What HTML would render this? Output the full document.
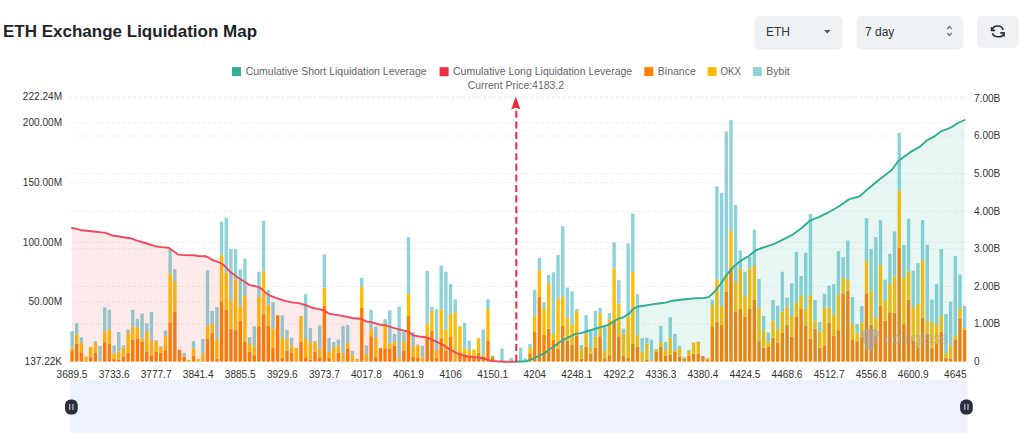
<!DOCTYPE html>
<html><head><meta charset="utf-8">
<style>
html,body{margin:0;padding:0;background:#fff;}
body{width:1024px;height:444px;overflow:hidden;position:relative;font-family:"Liberation Sans",sans-serif;}
.title{position:absolute;left:3px;top:22px;line-height:19.5px;font-size:17px;font-weight:bold;color:#1E2329;white-space:nowrap;}
.sel{position:absolute;top:15.5px;height:32px;background:#EFF2F5;border-radius:5px;box-shadow:0 1px 2px rgba(0,0,0,0.10);font-size:12px;color:#30343B;}
.sel span{position:absolute;top:9px;line-height:14px;}
.btn{position:absolute;left:977px;top:16px;width:42px;height:31.5px;background:#EFF2F5;border-radius:5px;}
svg.chart{position:absolute;left:0;top:0;}
svg text{font-family:"Liberation Sans",sans-serif;}
</style></head><body>
<div class="title">ETH Exchange Liquidation Map</div>
<div class="sel" style="left:754.5px;width:87.5px;"><span style="left:11.5px">ETH</span>
<svg style="position:absolute;left:69px;top:14.5px" width="7" height="4"><path d="M0,0 L6.5,0 L3.25,3.4 Z" fill="#555"/></svg></div>
<div class="sel" style="left:856.5px;width:106px;"><span style="left:8.5px">7 day</span>
<svg style="position:absolute;left:89px;top:9.5px" width="7" height="12"><path d="M1.2,4 L3.4,1.4 L5.6,4 M1.2,8 L3.4,10.6 L5.6,8" fill="none" stroke="#6A6E75" stroke-width="1.2"/></svg></div>
<div class="btn"></div>
<svg style="position:absolute;left:985px;top:21px" width="26" height="21" viewBox="0 0 26 21">
<path d="M7.3,8.8 C8.4,3.8 17,3.8 18.2,9.0" fill="none" stroke="#2E3138" stroke-width="1.6"/>
<path d="M7.4,12.3 C8.6,16.9 17.7,16.9 18.8,12.8" fill="none" stroke="#2E3138" stroke-width="1.6"/>
<path d="M6.6,5.9 L6.6,9.4 L10.1,9.4" fill="none" stroke="#2E3138" stroke-width="1.6" stroke-linejoin="miter"/>
<path d="M15.3,11.9 L19.1,11.9 L19.1,15.6" fill="none" stroke="#2E3138" stroke-width="1.6" stroke-linejoin="miter"/>
</svg>

<svg class="chart" width="1024" height="444" viewBox="0 0 1024 444">
<g stroke="#EFEFEF" stroke-width="1" stroke-dasharray="3.2 2.1"><line x1="69.66" y1="301.95" x2="967" y2="301.95" />
<line x1="69.66" y1="242.30" x2="967" y2="242.30" />
<line x1="69.66" y1="182.65" x2="967" y2="182.65" />
<line x1="69.66" y1="123.00" x2="967" y2="123.00" />
<line x1="69.66" y1="96.47" x2="967" y2="96.47" />
<line x1="69.66" y1="324.00" x2="967" y2="324.00" />
<line x1="69.66" y1="286.40" x2="967" y2="286.40" />
<line x1="69.66" y1="248.80" x2="967" y2="248.80" />
<line x1="69.66" y1="211.20" x2="967" y2="211.20" />
<line x1="69.66" y1="173.60" x2="967" y2="173.60" />
<line x1="69.66" y1="136.00" x2="967" y2="136.00" />
<line x1="69.66" y1="98.40" x2="967" y2="98.40" /></g>
<g><rect x="70.30" y="351.00" width="3.4" height="10.60" fill="#FF7F00"/><rect x="70.30" y="347.21" width="3.4" height="3.78" fill="#FFBC05"/><rect x="70.30" y="331.13" width="3.4" height="16.08" fill="#8DD3D9"/>
<rect x="74.97" y="343.43" width="3.4" height="18.17" fill="#FF7F00"/><rect x="74.97" y="334.35" width="3.4" height="9.08" fill="#FFBC05"/><rect x="74.97" y="323.38" width="3.4" height="10.97" fill="#8DD3D9"/>
<rect x="79.64" y="352.32" width="3.4" height="9.28" fill="#FF7F00"/><rect x="79.64" y="342.86" width="3.4" height="9.46" fill="#FFBC05"/><rect x="79.64" y="337.38" width="3.4" height="5.49" fill="#8DD3D9"/>
<rect x="84.32" y="360.46" width="3.4" height="1.14" fill="#FF7F00"/><rect x="84.32" y="356.67" width="3.4" height="3.78" fill="#FFBC05"/>
<rect x="88.99" y="357.24" width="3.4" height="4.36" fill="#FF7F00"/><rect x="88.99" y="347.02" width="3.4" height="10.22" fill="#FFBC05"/>
<rect x="93.66" y="352.89" width="3.4" height="8.71" fill="#FF7F00"/><rect x="93.66" y="342.86" width="3.4" height="10.03" fill="#FFBC05"/><rect x="93.66" y="341.16" width="3.4" height="1.70" fill="#8DD3D9"/>
<rect x="98.34" y="361.21" width="3.4" height="0.39" fill="#FF7F00"/><rect x="98.34" y="360.46" width="3.4" height="0.76" fill="#FFBC05"/><rect x="98.34" y="345.89" width="3.4" height="14.57" fill="#8DD3D9"/>
<rect x="103.01" y="342.29" width="3.4" height="19.31" fill="#FF7F00"/><rect x="103.01" y="331.32" width="3.4" height="10.97" fill="#FFBC05"/><rect x="103.01" y="307.49" width="3.4" height="23.84" fill="#8DD3D9"/>
<rect x="107.68" y="343.43" width="3.4" height="18.17" fill="#FF7F00"/><rect x="107.68" y="329.62" width="3.4" height="13.81" fill="#FFBC05"/><rect x="107.68" y="309.76" width="3.4" height="19.86" fill="#8DD3D9"/>
<rect x="112.36" y="359.13" width="3.4" height="2.47" fill="#FF7F00"/><rect x="112.36" y="353.27" width="3.4" height="5.86" fill="#FFBC05"/><rect x="112.36" y="345.32" width="3.4" height="7.95" fill="#8DD3D9"/>
<rect x="117.03" y="359.89" width="3.4" height="1.71" fill="#FF7F00"/><rect x="117.03" y="351.37" width="3.4" height="8.51" fill="#FFBC05"/><rect x="117.03" y="332.08" width="3.4" height="19.30" fill="#8DD3D9"/>
<rect x="121.71" y="356.67" width="3.4" height="4.93" fill="#FF7F00"/><rect x="121.71" y="347.59" width="3.4" height="9.08" fill="#FFBC05"/><rect x="121.71" y="345.32" width="3.4" height="2.27" fill="#8DD3D9"/>
<rect x="126.38" y="352.89" width="3.4" height="8.71" fill="#FF7F00"/><rect x="126.38" y="333.02" width="3.4" height="19.86" fill="#FFBC05"/><rect x="126.38" y="329.43" width="3.4" height="3.59" fill="#8DD3D9"/>
<rect x="131.05" y="339.83" width="3.4" height="21.77" fill="#FF7F00"/><rect x="131.05" y="326.40" width="3.4" height="13.43" fill="#FFBC05"/><rect x="131.05" y="309.76" width="3.4" height="16.65" fill="#8DD3D9"/>
<rect x="135.73" y="338.32" width="3.4" height="23.28" fill="#FF7F00"/><rect x="135.73" y="327.73" width="3.4" height="10.59" fill="#FFBC05"/><rect x="135.73" y="318.84" width="3.4" height="8.89" fill="#8DD3D9"/>
<rect x="140.40" y="341.92" width="3.4" height="19.68" fill="#FF7F00"/><rect x="140.40" y="338.70" width="3.4" height="3.22" fill="#FFBC05"/><rect x="140.40" y="313.54" width="3.4" height="25.16" fill="#8DD3D9"/>
<rect x="145.07" y="351.37" width="3.4" height="10.23" fill="#FF7F00"/><rect x="145.07" y="331.70" width="3.4" height="19.67" fill="#FFBC05"/><rect x="145.07" y="323.38" width="3.4" height="8.32" fill="#8DD3D9"/>
<rect x="149.75" y="355.35" width="3.4" height="6.25" fill="#FF7F00"/><rect x="149.75" y="339.83" width="3.4" height="15.51" fill="#FFBC05"/><rect x="149.75" y="311.84" width="3.4" height="28.00" fill="#8DD3D9"/>
<rect x="154.42" y="351.37" width="3.4" height="10.23" fill="#FF7F00"/><rect x="154.42" y="341.92" width="3.4" height="9.46" fill="#FFBC05"/><rect x="154.42" y="340.21" width="3.4" height="1.70" fill="#8DD3D9"/>
<rect x="159.09" y="352.89" width="3.4" height="8.71" fill="#FF7F00"/><rect x="159.09" y="347.21" width="3.4" height="5.68" fill="#FFBC05"/><rect x="159.09" y="346.27" width="3.4" height="0.95" fill="#8DD3D9"/>
<rect x="163.77" y="351.00" width="3.4" height="10.60" fill="#FF7F00"/><rect x="163.77" y="336.24" width="3.4" height="14.76" fill="#FFBC05"/><rect x="163.77" y="330.56" width="3.4" height="5.68" fill="#8DD3D9"/>
<rect x="168.44" y="322.24" width="3.4" height="39.36" fill="#FF7F00"/><rect x="168.44" y="273.62" width="3.4" height="48.62" fill="#FFBC05"/><rect x="168.44" y="249.02" width="3.4" height="24.59" fill="#8DD3D9"/>
<rect x="173.11" y="311.27" width="3.4" height="50.33" fill="#FF7F00"/><rect x="173.11" y="281.00" width="3.4" height="30.27" fill="#FFBC05"/><rect x="173.11" y="269.27" width="3.4" height="11.73" fill="#8DD3D9"/>
<rect x="177.79" y="349.86" width="3.4" height="11.74" fill="#FF7F00"/>
<rect x="182.46" y="356.67" width="3.4" height="4.93" fill="#FF7F00"/><rect x="182.46" y="356.29" width="3.4" height="0.38" fill="#FFBC05"/><rect x="182.46" y="352.89" width="3.4" height="3.41" fill="#8DD3D9"/>
<rect x="187.13" y="359.89" width="3.4" height="1.71" fill="#FFBC05"/>
<rect x="191.81" y="355.73" width="3.4" height="5.87" fill="#FF7F00"/><rect x="191.81" y="348.54" width="3.4" height="7.19" fill="#FFBC05"/><rect x="191.81" y="341.16" width="3.4" height="7.38" fill="#8DD3D9"/>
<rect x="196.48" y="359.13" width="3.4" height="2.47" fill="#FFBC05"/>
<rect x="201.15" y="361.02" width="3.4" height="0.58" fill="#FF7F00"/><rect x="201.15" y="353.08" width="3.4" height="7.95" fill="#FFBC05"/><rect x="201.15" y="338.89" width="3.4" height="14.19" fill="#8DD3D9"/>
<rect x="205.83" y="338.89" width="3.4" height="22.71" fill="#FF7F00"/><rect x="205.83" y="325.65" width="3.4" height="13.24" fill="#FFBC05"/><rect x="205.83" y="270.40" width="3.4" height="55.24" fill="#8DD3D9"/>
<rect x="210.50" y="332.84" width="3.4" height="28.76" fill="#FF7F00"/><rect x="210.50" y="323.57" width="3.4" height="9.27" fill="#FFBC05"/><rect x="210.50" y="310.89" width="3.4" height="12.67" fill="#8DD3D9"/>
<rect x="215.18" y="358.56" width="3.4" height="3.04" fill="#FF7F00"/><rect x="215.18" y="339.08" width="3.4" height="19.49" fill="#FFBC05"/><rect x="215.18" y="307.11" width="3.4" height="31.97" fill="#8DD3D9"/>
<rect x="219.85" y="301.24" width="3.4" height="60.36" fill="#FF7F00"/><rect x="219.85" y="254.70" width="3.4" height="46.54" fill="#FFBC05"/><rect x="219.85" y="221.59" width="3.4" height="33.11" fill="#8DD3D9"/>
<rect x="224.52" y="309.94" width="3.4" height="51.66" fill="#FF7F00"/><rect x="224.52" y="272.67" width="3.4" height="37.27" fill="#FFBC05"/><rect x="224.52" y="217.81" width="3.4" height="54.86" fill="#8DD3D9"/>
<rect x="229.20" y="328.67" width="3.4" height="32.93" fill="#FF7F00"/><rect x="229.20" y="299.54" width="3.4" height="29.13" fill="#FFBC05"/><rect x="229.20" y="249.02" width="3.4" height="50.52" fill="#8DD3D9"/>
<rect x="233.87" y="330.19" width="3.4" height="31.41" fill="#FF7F00"/><rect x="233.87" y="279.29" width="3.4" height="50.89" fill="#FFBC05"/><rect x="233.87" y="249.02" width="3.4" height="30.27" fill="#8DD3D9"/>
<rect x="238.54" y="320.92" width="3.4" height="40.68" fill="#FF7F00"/><rect x="238.54" y="306.16" width="3.4" height="14.76" fill="#FFBC05"/><rect x="238.54" y="269.27" width="3.4" height="36.89" fill="#8DD3D9"/>
<rect x="243.22" y="341.92" width="3.4" height="19.68" fill="#FF7F00"/><rect x="243.22" y="296.13" width="3.4" height="45.78" fill="#FFBC05"/><rect x="243.22" y="258.67" width="3.4" height="37.46" fill="#8DD3D9"/>
<rect x="247.89" y="351.75" width="3.4" height="9.85" fill="#FF7F00"/><rect x="247.89" y="343.05" width="3.4" height="8.70" fill="#FFBC05"/><rect x="247.89" y="337.19" width="3.4" height="5.86" fill="#8DD3D9"/>
<rect x="252.56" y="355.16" width="3.4" height="6.44" fill="#FF7F00"/><rect x="252.56" y="346.46" width="3.4" height="8.70" fill="#FFBC05"/><rect x="252.56" y="326.40" width="3.4" height="20.05" fill="#8DD3D9"/>
<rect x="257.24" y="326.40" width="3.4" height="35.20" fill="#FF7F00"/><rect x="257.24" y="297.08" width="3.4" height="29.32" fill="#FFBC05"/><rect x="257.24" y="271.73" width="3.4" height="25.35" fill="#8DD3D9"/>
<rect x="261.91" y="313.73" width="3.4" height="47.87" fill="#FF7F00"/><rect x="261.91" y="271.16" width="3.4" height="42.57" fill="#FFBC05"/><rect x="261.91" y="220.65" width="3.4" height="50.51" fill="#8DD3D9"/>
<rect x="266.58" y="325.46" width="3.4" height="36.14" fill="#FF7F00"/><rect x="266.58" y="305.59" width="3.4" height="19.86" fill="#FFBC05"/><rect x="266.58" y="290.08" width="3.4" height="15.51" fill="#8DD3D9"/>
<rect x="271.26" y="348.16" width="3.4" height="13.44" fill="#FF7F00"/><rect x="271.26" y="328.67" width="3.4" height="19.49" fill="#FFBC05"/><rect x="271.26" y="302.19" width="3.4" height="26.49" fill="#8DD3D9"/>
<rect x="275.93" y="315.43" width="3.4" height="46.17" fill="#FF7F00"/>
<rect x="280.60" y="357.62" width="3.4" height="3.98" fill="#FF7F00"/><rect x="280.60" y="338.13" width="3.4" height="19.49" fill="#FFBC05"/><rect x="280.60" y="315.43" width="3.4" height="22.70" fill="#8DD3D9"/>
<rect x="285.28" y="350.43" width="3.4" height="11.17" fill="#FF7F00"/><rect x="285.28" y="339.08" width="3.4" height="11.35" fill="#FFBC05"/><rect x="285.28" y="329.81" width="3.4" height="9.27" fill="#8DD3D9"/>
<rect x="289.95" y="352.32" width="3.4" height="9.28" fill="#FF7F00"/><rect x="289.95" y="346.27" width="3.4" height="6.05" fill="#FFBC05"/><rect x="289.95" y="337.75" width="3.4" height="8.51" fill="#8DD3D9"/>
<rect x="294.62" y="360.83" width="3.4" height="0.77" fill="#FF7F00"/><rect x="294.62" y="347.97" width="3.4" height="12.86" fill="#FFBC05"/>
<rect x="299.30" y="341.92" width="3.4" height="19.68" fill="#FF7F00"/><rect x="299.30" y="316.00" width="3.4" height="25.92" fill="#FFBC05"/>
<rect x="303.97" y="357.24" width="3.4" height="4.36" fill="#FF7F00"/><rect x="303.97" y="339.08" width="3.4" height="18.16" fill="#FFBC05"/><rect x="303.97" y="293.86" width="3.4" height="45.21" fill="#8DD3D9"/>
<rect x="308.65" y="359.51" width="3.4" height="2.09" fill="#FF7F00"/><rect x="308.65" y="342.86" width="3.4" height="16.65" fill="#FFBC05"/><rect x="308.65" y="327.92" width="3.4" height="14.95" fill="#8DD3D9"/>
<rect x="313.32" y="351.94" width="3.4" height="9.66" fill="#FF7F00"/><rect x="313.32" y="341.92" width="3.4" height="10.03" fill="#FFBC05"/><rect x="313.32" y="340.97" width="3.4" height="0.95" fill="#8DD3D9"/>
<rect x="317.99" y="358.00" width="3.4" height="3.60" fill="#FF7F00"/><rect x="317.99" y="348.54" width="3.4" height="9.46" fill="#FFBC05"/><rect x="317.99" y="325.65" width="3.4" height="22.89" fill="#8DD3D9"/>
<rect x="322.67" y="305.59" width="3.4" height="56.01" fill="#FF7F00"/><rect x="322.67" y="287.62" width="3.4" height="17.97" fill="#FFBC05"/><rect x="322.67" y="254.32" width="3.4" height="33.30" fill="#8DD3D9"/>
<rect x="327.34" y="358.00" width="3.4" height="3.60" fill="#FF7F00"/><rect x="327.34" y="351.94" width="3.4" height="6.05" fill="#FFBC05"/><rect x="327.34" y="337.75" width="3.4" height="14.19" fill="#8DD3D9"/>
<rect x="332.01" y="360.83" width="3.4" height="0.77" fill="#FF7F00"/><rect x="332.01" y="347.21" width="3.4" height="13.62" fill="#FFBC05"/><rect x="332.01" y="341.92" width="3.4" height="5.30" fill="#8DD3D9"/>
<rect x="336.69" y="352.89" width="3.4" height="8.71" fill="#FF7F00"/><rect x="336.69" y="345.32" width="3.4" height="7.57" fill="#FFBC05"/><rect x="336.69" y="339.65" width="3.4" height="5.68" fill="#8DD3D9"/>
<rect x="341.36" y="360.46" width="3.4" height="1.14" fill="#FF7F00"/><rect x="341.36" y="352.89" width="3.4" height="7.57" fill="#FFBC05"/><rect x="341.36" y="326.02" width="3.4" height="26.86" fill="#8DD3D9"/>
<rect x="346.03" y="348.54" width="3.4" height="13.06" fill="#FF7F00"/><rect x="346.03" y="343.05" width="3.4" height="5.49" fill="#FFBC05"/><rect x="346.03" y="325.08" width="3.4" height="17.97" fill="#8DD3D9"/>
<rect x="350.71" y="360.46" width="3.4" height="1.14" fill="#FF7F00"/><rect x="350.71" y="355.35" width="3.4" height="5.11" fill="#FFBC05"/><rect x="350.71" y="351.00" width="3.4" height="4.35" fill="#8DD3D9"/>
<rect x="355.38" y="360.46" width="3.4" height="1.14" fill="#FF7F00"/><rect x="355.38" y="358.94" width="3.4" height="1.51" fill="#FFBC05"/>
<rect x="360.05" y="307.86" width="3.4" height="53.74" fill="#FF7F00"/><rect x="360.05" y="286.68" width="3.4" height="21.19" fill="#FFBC05"/><rect x="360.05" y="277.97" width="3.4" height="8.71" fill="#8DD3D9"/>
<rect x="364.73" y="360.46" width="3.4" height="1.14" fill="#FF7F00"/><rect x="364.73" y="354.40" width="3.4" height="6.05" fill="#FFBC05"/><rect x="364.73" y="345.32" width="3.4" height="9.08" fill="#8DD3D9"/>
<rect x="369.40" y="336.24" width="3.4" height="25.36" fill="#FF7F00"/><rect x="369.40" y="329.24" width="3.4" height="7.00" fill="#FFBC05"/><rect x="369.40" y="309.76" width="3.4" height="19.49" fill="#8DD3D9"/>
<rect x="374.07" y="357.24" width="3.4" height="4.36" fill="#FF7F00"/><rect x="374.07" y="337.75" width="3.4" height="19.49" fill="#FFBC05"/><rect x="374.07" y="326.78" width="3.4" height="10.97" fill="#8DD3D9"/>
<rect x="378.75" y="348.16" width="3.4" height="13.44" fill="#FF7F00"/>
<rect x="383.42" y="348.16" width="3.4" height="13.44" fill="#FF7F00"/><rect x="383.42" y="325.84" width="3.4" height="22.32" fill="#FFBC05"/><rect x="383.42" y="319.21" width="3.4" height="6.62" fill="#8DD3D9"/>
<rect x="388.09" y="348.54" width="3.4" height="13.06" fill="#FF7F00"/><rect x="388.09" y="343.43" width="3.4" height="5.11" fill="#FFBC05"/><rect x="388.09" y="310.32" width="3.4" height="33.11" fill="#8DD3D9"/>
<rect x="392.77" y="345.70" width="3.4" height="15.90" fill="#FF7F00"/><rect x="392.77" y="341.92" width="3.4" height="3.78" fill="#FFBC05"/><rect x="392.77" y="333.97" width="3.4" height="7.95" fill="#8DD3D9"/>
<rect x="397.44" y="360.46" width="3.4" height="1.14" fill="#FF7F00"/><rect x="397.44" y="357.62" width="3.4" height="2.84" fill="#FFBC05"/><rect x="397.44" y="306.54" width="3.4" height="51.08" fill="#8DD3D9"/>
<rect x="402.12" y="350.43" width="3.4" height="11.17" fill="#FF7F00"/><rect x="402.12" y="341.92" width="3.4" height="8.51" fill="#FFBC05"/><rect x="402.12" y="331.70" width="3.4" height="10.22" fill="#8DD3D9"/>
<rect x="406.79" y="316.00" width="3.4" height="45.60" fill="#FF7F00"/><rect x="406.79" y="293.86" width="3.4" height="22.13" fill="#FFBC05"/><rect x="406.79" y="237.11" width="3.4" height="56.76" fill="#8DD3D9"/>
<rect x="411.46" y="357.05" width="3.4" height="4.55" fill="#FF7F00"/><rect x="411.46" y="346.27" width="3.4" height="10.78" fill="#FFBC05"/><rect x="411.46" y="332.08" width="3.4" height="14.19" fill="#8DD3D9"/>
<rect x="416.14" y="357.62" width="3.4" height="3.98" fill="#FF7F00"/><rect x="416.14" y="345.32" width="3.4" height="12.30" fill="#FFBC05"/><rect x="416.14" y="344.37" width="3.4" height="0.95" fill="#8DD3D9"/>
<rect x="420.81" y="360.46" width="3.4" height="1.14" fill="#FF7F00"/><rect x="420.81" y="357.62" width="3.4" height="2.84" fill="#FFBC05"/><rect x="420.81" y="345.70" width="3.4" height="11.92" fill="#8DD3D9"/>
<rect x="425.48" y="338.32" width="3.4" height="23.28" fill="#FF7F00"/><rect x="425.48" y="323.57" width="3.4" height="14.76" fill="#FFBC05"/><rect x="425.48" y="270.78" width="3.4" height="52.79" fill="#8DD3D9"/>
<rect x="430.16" y="330.75" width="3.4" height="30.85" fill="#FF7F00"/><rect x="430.16" y="310.70" width="3.4" height="20.05" fill="#FFBC05"/><rect x="430.16" y="306.92" width="3.4" height="3.78" fill="#8DD3D9"/>
<rect x="434.83" y="357.62" width="3.4" height="3.98" fill="#FF7F00"/><rect x="434.83" y="350.05" width="3.4" height="7.57" fill="#FFBC05"/><rect x="434.83" y="309.38" width="3.4" height="40.67" fill="#8DD3D9"/>
<rect x="439.50" y="337.75" width="3.4" height="23.85" fill="#FF7F00"/><rect x="439.50" y="309.38" width="3.4" height="28.38" fill="#FFBC05"/><rect x="439.50" y="265.48" width="3.4" height="43.89" fill="#8DD3D9"/>
<rect x="444.18" y="350.62" width="3.4" height="10.98" fill="#FF7F00"/><rect x="444.18" y="329.81" width="3.4" height="20.81" fill="#FFBC05"/><rect x="444.18" y="271.73" width="3.4" height="58.08" fill="#8DD3D9"/>
<rect x="448.85" y="336.24" width="3.4" height="25.36" fill="#FF7F00"/><rect x="448.85" y="314.11" width="3.4" height="22.13" fill="#FFBC05"/><rect x="448.85" y="284.22" width="3.4" height="29.89" fill="#8DD3D9"/>
<rect x="453.52" y="361.02" width="3.4" height="0.58" fill="#FF7F00"/><rect x="453.52" y="312.21" width="3.4" height="48.81" fill="#FFBC05"/><rect x="453.52" y="299.35" width="3.4" height="12.86" fill="#8DD3D9"/>
<rect x="458.20" y="352.13" width="3.4" height="9.47" fill="#FF7F00"/><rect x="458.20" y="326.40" width="3.4" height="25.73" fill="#FFBC05"/>
<rect x="462.87" y="355.16" width="3.4" height="6.44" fill="#FF7F00"/><rect x="462.87" y="348.16" width="3.4" height="7.00" fill="#FFBC05"/><rect x="462.87" y="323.00" width="3.4" height="25.16" fill="#8DD3D9"/>
<rect x="467.54" y="355.16" width="3.4" height="6.44" fill="#FF7F00"/><rect x="467.54" y="350.05" width="3.4" height="5.11" fill="#FFBC05"/><rect x="467.54" y="340.59" width="3.4" height="9.46" fill="#8DD3D9"/>
<rect x="472.22" y="357.05" width="3.4" height="4.55" fill="#FF7F00"/><rect x="472.22" y="349.48" width="3.4" height="7.57" fill="#FFBC05"/>
<rect x="476.89" y="352.89" width="3.4" height="8.71" fill="#FF7F00"/><rect x="476.89" y="338.13" width="3.4" height="14.76" fill="#FFBC05"/>
<rect x="481.56" y="357.05" width="3.4" height="4.55" fill="#FF7F00"/><rect x="481.56" y="354.78" width="3.4" height="2.27" fill="#FFBC05"/><rect x="481.56" y="329.62" width="3.4" height="25.16" fill="#8DD3D9"/>
<rect x="486.24" y="340.97" width="3.4" height="20.63" fill="#FF7F00"/><rect x="486.24" y="309.00" width="3.4" height="31.97" fill="#FFBC05"/><rect x="486.24" y="299.35" width="3.4" height="9.65" fill="#8DD3D9"/>
<rect x="490.91" y="357.05" width="3.4" height="4.55" fill="#FF7F00"/><rect x="490.91" y="355.54" width="3.4" height="1.51" fill="#8DD3D9"/>

<rect x="500.26" y="348.54" width="3.4" height="13.06" fill="#8DD3D9"/>

<rect x="509.61" y="358.00" width="3.4" height="3.60" fill="#8DD3D9"/>

<rect x="518.95" y="347.59" width="3.4" height="14.01" fill="#8DD3D9"/>
<rect x="523.63" y="358.56" width="3.4" height="3.04" fill="#8DD3D9"/>
<rect x="528.30" y="353.27" width="3.4" height="8.33" fill="#FF7F00"/><rect x="528.30" y="348.16" width="3.4" height="5.11" fill="#FFBC05"/><rect x="528.30" y="344.00" width="3.4" height="4.16" fill="#8DD3D9"/>
<rect x="532.97" y="332.08" width="3.4" height="29.52" fill="#FF7F00"/><rect x="532.97" y="315.62" width="3.4" height="16.46" fill="#FFBC05"/><rect x="532.97" y="289.89" width="3.4" height="25.73" fill="#8DD3D9"/>
<rect x="537.65" y="297.08" width="3.4" height="64.52" fill="#FF7F00"/><rect x="537.65" y="270.21" width="3.4" height="26.87" fill="#FFBC05"/><rect x="537.65" y="257.92" width="3.4" height="12.30" fill="#8DD3D9"/>
<rect x="542.32" y="334.92" width="3.4" height="26.68" fill="#FF7F00"/><rect x="542.32" y="309.00" width="3.4" height="25.92" fill="#FFBC05"/><rect x="542.32" y="302.19" width="3.4" height="6.81" fill="#8DD3D9"/>
<rect x="546.99" y="328.67" width="3.4" height="32.93" fill="#FF7F00"/><rect x="546.99" y="282.89" width="3.4" height="45.78" fill="#FFBC05"/><rect x="546.99" y="274.94" width="3.4" height="7.95" fill="#8DD3D9"/>
<rect x="551.67" y="340.02" width="3.4" height="21.58" fill="#FF7F00"/><rect x="551.67" y="333.97" width="3.4" height="6.05" fill="#FFBC05"/><rect x="551.67" y="272.29" width="3.4" height="61.68" fill="#8DD3D9"/>
<rect x="556.34" y="348.73" width="3.4" height="12.87" fill="#FF7F00"/><rect x="556.34" y="298.97" width="3.4" height="49.75" fill="#FFBC05"/><rect x="556.34" y="255.08" width="3.4" height="43.89" fill="#8DD3D9"/>
<rect x="561.01" y="325.84" width="3.4" height="35.76" fill="#FF7F00"/><rect x="561.01" y="297.08" width="3.4" height="28.76" fill="#FFBC05"/><rect x="561.01" y="226.32" width="3.4" height="70.76" fill="#8DD3D9"/>
<rect x="565.69" y="340.59" width="3.4" height="21.01" fill="#FF7F00"/><rect x="565.69" y="317.51" width="3.4" height="23.08" fill="#FFBC05"/><rect x="565.69" y="287.62" width="3.4" height="29.89" fill="#8DD3D9"/>
<rect x="570.36" y="344.94" width="3.4" height="16.66" fill="#FF7F00"/><rect x="570.36" y="324.51" width="3.4" height="20.43" fill="#FFBC05"/><rect x="570.36" y="291.40" width="3.4" height="33.11" fill="#8DD3D9"/>
<rect x="575.03" y="335.86" width="3.4" height="25.74" fill="#FF7F00"/><rect x="575.03" y="310.89" width="3.4" height="24.97" fill="#FFBC05"/><rect x="575.03" y="309.00" width="3.4" height="1.89" fill="#8DD3D9"/>
<rect x="579.71" y="358.56" width="3.4" height="3.04" fill="#FF7F00"/><rect x="579.71" y="349.10" width="3.4" height="9.46" fill="#FFBC05"/><rect x="579.71" y="344.94" width="3.4" height="4.16" fill="#8DD3D9"/>
<rect x="584.38" y="346.83" width="3.4" height="14.77" fill="#FF7F00"/><rect x="584.38" y="333.59" width="3.4" height="13.24" fill="#FFBC05"/><rect x="584.38" y="315.05" width="3.4" height="18.54" fill="#8DD3D9"/>
<rect x="589.06" y="353.83" width="3.4" height="7.77" fill="#FF7F00"/><rect x="589.06" y="347.21" width="3.4" height="6.62" fill="#FFBC05"/><rect x="589.06" y="331.13" width="3.4" height="16.08" fill="#8DD3D9"/>
<rect x="593.73" y="347.78" width="3.4" height="13.82" fill="#FF7F00"/><rect x="593.73" y="336.81" width="3.4" height="10.97" fill="#FFBC05"/><rect x="593.73" y="310.70" width="3.4" height="26.11" fill="#8DD3D9"/>
<rect x="598.40" y="336.24" width="3.4" height="25.36" fill="#FF7F00"/><rect x="598.40" y="313.16" width="3.4" height="23.08" fill="#FFBC05"/><rect x="598.40" y="308.05" width="3.4" height="5.11" fill="#8DD3D9"/>
<rect x="603.08" y="358.19" width="3.4" height="3.41" fill="#FF7F00"/><rect x="603.08" y="350.62" width="3.4" height="7.57" fill="#FFBC05"/><rect x="603.08" y="326.97" width="3.4" height="23.65" fill="#8DD3D9"/>
<rect x="607.75" y="355.16" width="3.4" height="6.44" fill="#FF7F00"/><rect x="607.75" y="319.40" width="3.4" height="35.75" fill="#FFBC05"/><rect x="607.75" y="313.16" width="3.4" height="6.24" fill="#8DD3D9"/>
<rect x="612.42" y="321.67" width="3.4" height="39.93" fill="#FF7F00"/><rect x="612.42" y="268.51" width="3.4" height="53.16" fill="#FFBC05"/><rect x="612.42" y="242.40" width="3.4" height="26.11" fill="#8DD3D9"/>
<rect x="617.10" y="336.24" width="3.4" height="25.36" fill="#FF7F00"/><rect x="617.10" y="303.32" width="3.4" height="32.92" fill="#FFBC05"/><rect x="617.10" y="280.24" width="3.4" height="23.08" fill="#8DD3D9"/>
<rect x="621.77" y="356.10" width="3.4" height="5.50" fill="#FF7F00"/><rect x="621.77" y="333.40" width="3.4" height="22.70" fill="#FFBC05"/><rect x="621.77" y="328.67" width="3.4" height="4.73" fill="#8DD3D9"/>
<rect x="626.44" y="357.62" width="3.4" height="3.98" fill="#FF7F00"/><rect x="626.44" y="316.38" width="3.4" height="41.24" fill="#FFBC05"/><rect x="626.44" y="243.35" width="3.4" height="73.03" fill="#8DD3D9"/>
<rect x="631.12" y="344.00" width="3.4" height="17.60" fill="#FF7F00"/><rect x="631.12" y="272.10" width="3.4" height="71.89" fill="#FFBC05"/><rect x="631.12" y="213.65" width="3.4" height="58.46" fill="#8DD3D9"/>
<rect x="635.79" y="346.83" width="3.4" height="14.77" fill="#FF7F00"/><rect x="635.79" y="334.92" width="3.4" height="11.92" fill="#FFBC05"/><rect x="635.79" y="294.24" width="3.4" height="40.67" fill="#8DD3D9"/>
<rect x="640.46" y="361.02" width="3.4" height="0.58" fill="#FF7F00"/><rect x="640.46" y="351.56" width="3.4" height="9.46" fill="#FFBC05"/><rect x="640.46" y="338.13" width="3.4" height="13.43" fill="#8DD3D9"/>
<rect x="645.14" y="359.89" width="3.4" height="1.71" fill="#FF7F00"/><rect x="645.14" y="343.81" width="3.4" height="16.08" fill="#FFBC05"/><rect x="645.14" y="337.75" width="3.4" height="6.05" fill="#8DD3D9"/>
<rect x="649.81" y="361.40" width="3.4" height="0.20" fill="#FF7F00"/><rect x="649.81" y="360.08" width="3.4" height="1.32" fill="#FFBC05"/><rect x="649.81" y="339.65" width="3.4" height="20.43" fill="#8DD3D9"/>
<rect x="654.48" y="351.94" width="3.4" height="9.66" fill="#FF7F00"/><rect x="654.48" y="349.67" width="3.4" height="2.27" fill="#FFBC05"/><rect x="654.48" y="349.10" width="3.4" height="0.57" fill="#8DD3D9"/>
<rect x="659.16" y="346.83" width="3.4" height="14.77" fill="#FF7F00"/><rect x="659.16" y="341.92" width="3.4" height="4.92" fill="#FFBC05"/><rect x="659.16" y="326.02" width="3.4" height="15.89" fill="#8DD3D9"/>
<rect x="663.83" y="355.73" width="3.4" height="5.87" fill="#FF7F00"/><rect x="663.83" y="350.05" width="3.4" height="5.68" fill="#FFBC05"/><rect x="663.83" y="342.10" width="3.4" height="7.95" fill="#8DD3D9"/>
<rect x="668.50" y="354.78" width="3.4" height="6.82" fill="#FF7F00"/><rect x="668.50" y="337.75" width="3.4" height="17.03" fill="#FFBC05"/><rect x="668.50" y="317.32" width="3.4" height="20.43" fill="#8DD3D9"/>
<rect x="673.18" y="351.37" width="3.4" height="10.23" fill="#FF7F00"/><rect x="673.18" y="350.05" width="3.4" height="1.32" fill="#FFBC05"/><rect x="673.18" y="333.97" width="3.4" height="16.08" fill="#8DD3D9"/>
<rect x="677.85" y="356.67" width="3.4" height="4.93" fill="#FF7F00"/><rect x="677.85" y="348.16" width="3.4" height="8.51" fill="#FFBC05"/><rect x="677.85" y="345.70" width="3.4" height="2.46" fill="#8DD3D9"/>
<rect x="682.53" y="358.56" width="3.4" height="3.04" fill="#FF7F00"/><rect x="682.53" y="357.62" width="3.4" height="0.95" fill="#FFBC05"/><rect x="682.53" y="356.67" width="3.4" height="0.95" fill="#8DD3D9"/>
<rect x="687.20" y="355.73" width="3.4" height="5.87" fill="#FF7F00"/><rect x="687.20" y="351.00" width="3.4" height="4.73" fill="#FFBC05"/><rect x="687.20" y="350.05" width="3.4" height="0.95" fill="#8DD3D9"/>
<rect x="691.87" y="353.83" width="3.4" height="7.77" fill="#FF7F00"/><rect x="691.87" y="342.48" width="3.4" height="11.35" fill="#FFBC05"/>
<rect x="696.55" y="353.83" width="3.4" height="7.77" fill="#FF7F00"/><rect x="696.55" y="341.92" width="3.4" height="11.92" fill="#FFBC05"/><rect x="696.55" y="341.54" width="3.4" height="0.38" fill="#8DD3D9"/>
<rect x="701.22" y="356.10" width="3.4" height="5.50" fill="#FF7F00"/>
<rect x="705.89" y="359.51" width="3.4" height="2.09" fill="#FF7F00"/><rect x="705.89" y="358.00" width="3.4" height="1.51" fill="#FFBC05"/>
<rect x="710.57" y="326.97" width="3.4" height="34.63" fill="#FF7F00"/><rect x="710.57" y="305.21" width="3.4" height="21.76" fill="#FFBC05"/><rect x="710.57" y="299.92" width="3.4" height="5.30" fill="#8DD3D9"/>
<rect x="715.24" y="321.67" width="3.4" height="39.93" fill="#FF7F00"/><rect x="715.24" y="279.67" width="3.4" height="42.00" fill="#FFBC05"/><rect x="715.24" y="186.40" width="3.4" height="93.27" fill="#8DD3D9"/>
<rect x="719.91" y="324.89" width="3.4" height="36.71" fill="#FF7F00"/><rect x="719.91" y="306.16" width="3.4" height="18.73" fill="#FFBC05"/><rect x="719.91" y="192.83" width="3.4" height="113.33" fill="#8DD3D9"/>
<rect x="724.59" y="291.78" width="3.4" height="69.82" fill="#FF7F00"/><rect x="724.59" y="273.62" width="3.4" height="18.17" fill="#FFBC05"/><rect x="724.59" y="131.54" width="3.4" height="142.08" fill="#8DD3D9"/>
<rect x="729.26" y="267.94" width="3.4" height="93.66" fill="#FF7F00"/><rect x="729.26" y="231.05" width="3.4" height="36.89" fill="#FFBC05"/><rect x="729.26" y="120.19" width="3.4" height="110.86" fill="#8DD3D9"/>
<rect x="733.93" y="311.27" width="3.4" height="50.33" fill="#FF7F00"/><rect x="733.93" y="281.95" width="3.4" height="29.32" fill="#FFBC05"/><rect x="733.93" y="204.95" width="3.4" height="77.00" fill="#8DD3D9"/>
<rect x="738.61" y="309.00" width="3.4" height="52.60" fill="#FF7F00"/><rect x="738.61" y="268.89" width="3.4" height="40.11" fill="#FFBC05"/><rect x="738.61" y="250.35" width="3.4" height="18.54" fill="#8DD3D9"/>
<rect x="743.28" y="316.94" width="3.4" height="44.66" fill="#FF7F00"/><rect x="743.28" y="296.13" width="3.4" height="20.81" fill="#FFBC05"/><rect x="743.28" y="271.73" width="3.4" height="24.41" fill="#8DD3D9"/>
<rect x="747.95" y="309.00" width="3.4" height="52.60" fill="#FF7F00"/><rect x="747.95" y="268.32" width="3.4" height="40.68" fill="#FFBC05"/><rect x="747.95" y="256.59" width="3.4" height="11.73" fill="#8DD3D9"/>
<rect x="752.63" y="299.92" width="3.4" height="61.68" fill="#FF7F00"/><rect x="752.63" y="266.05" width="3.4" height="33.87" fill="#FFBC05"/><rect x="752.63" y="229.54" width="3.4" height="36.51" fill="#8DD3D9"/>
<rect x="757.30" y="341.16" width="3.4" height="20.44" fill="#FF7F00"/><rect x="757.30" y="307.49" width="3.4" height="33.67" fill="#FFBC05"/><rect x="757.30" y="278.91" width="3.4" height="28.57" fill="#8DD3D9"/>
<rect x="761.97" y="347.78" width="3.4" height="13.82" fill="#FF7F00"/><rect x="761.97" y="330.75" width="3.4" height="17.03" fill="#FFBC05"/><rect x="761.97" y="316.00" width="3.4" height="14.76" fill="#8DD3D9"/>
<rect x="766.65" y="346.83" width="3.4" height="14.77" fill="#FF7F00"/><rect x="766.65" y="341.92" width="3.4" height="4.92" fill="#FFBC05"/><rect x="766.65" y="332.46" width="3.4" height="9.46" fill="#8DD3D9"/>
<rect x="771.32" y="337.75" width="3.4" height="23.85" fill="#FF7F00"/><rect x="771.32" y="320.35" width="3.4" height="17.40" fill="#FFBC05"/><rect x="771.32" y="299.92" width="3.4" height="20.43" fill="#8DD3D9"/>
<rect x="776.00" y="343.05" width="3.4" height="18.55" fill="#FF7F00"/><rect x="776.00" y="329.24" width="3.4" height="13.81" fill="#FFBC05"/><rect x="776.00" y="305.59" width="3.4" height="23.65" fill="#8DD3D9"/>
<rect x="780.67" y="333.02" width="3.4" height="28.58" fill="#FF7F00"/><rect x="780.67" y="311.84" width="3.4" height="21.19" fill="#FFBC05"/><rect x="780.67" y="271.73" width="3.4" height="40.11" fill="#8DD3D9"/>
<rect x="785.34" y="325.08" width="3.4" height="36.52" fill="#FF7F00"/><rect x="785.34" y="306.54" width="3.4" height="18.54" fill="#FFBC05"/><rect x="785.34" y="297.65" width="3.4" height="8.89" fill="#8DD3D9"/>
<rect x="790.02" y="336.81" width="3.4" height="24.79" fill="#FF7F00"/><rect x="790.02" y="316.00" width="3.4" height="20.81" fill="#FFBC05"/><rect x="790.02" y="283.27" width="3.4" height="32.73" fill="#8DD3D9"/>
<rect x="794.69" y="316.94" width="3.4" height="44.66" fill="#FF7F00"/><rect x="794.69" y="302.38" width="3.4" height="14.57" fill="#FFBC05"/><rect x="794.69" y="251.86" width="3.4" height="50.52" fill="#8DD3D9"/>
<rect x="799.36" y="309.00" width="3.4" height="52.60" fill="#FF7F00"/><rect x="799.36" y="295.76" width="3.4" height="13.24" fill="#FFBC05"/><rect x="799.36" y="276.08" width="3.4" height="19.68" fill="#8DD3D9"/>
<rect x="804.04" y="325.84" width="3.4" height="35.76" fill="#FF7F00"/><rect x="804.04" y="308.81" width="3.4" height="17.03" fill="#FFBC05"/><rect x="804.04" y="252.81" width="3.4" height="56.00" fill="#8DD3D9"/>
<rect x="808.71" y="338.70" width="3.4" height="22.90" fill="#FF7F00"/><rect x="808.71" y="295.19" width="3.4" height="43.51" fill="#FFBC05"/><rect x="808.71" y="214.03" width="3.4" height="81.16" fill="#8DD3D9"/>
<rect x="813.38" y="328.86" width="3.4" height="32.74" fill="#FF7F00"/><rect x="813.38" y="320.35" width="3.4" height="8.51" fill="#FFBC05"/><rect x="813.38" y="299.92" width="3.4" height="20.43" fill="#8DD3D9"/>
<rect x="818.06" y="347.78" width="3.4" height="13.82" fill="#FF7F00"/><rect x="818.06" y="331.70" width="3.4" height="16.08" fill="#FFBC05"/><rect x="818.06" y="322.24" width="3.4" height="9.46" fill="#8DD3D9"/>
<rect x="822.73" y="345.32" width="3.4" height="16.28" fill="#FF7F00"/><rect x="822.73" y="307.49" width="3.4" height="37.84" fill="#FFBC05"/><rect x="822.73" y="293.86" width="3.4" height="13.62" fill="#8DD3D9"/>
<rect x="827.40" y="322.62" width="3.4" height="38.98" fill="#FF7F00"/><rect x="827.40" y="307.49" width="3.4" height="15.13" fill="#FFBC05"/><rect x="827.40" y="285.73" width="3.4" height="21.76" fill="#8DD3D9"/>
<rect x="832.08" y="335.86" width="3.4" height="25.74" fill="#FF7F00"/><rect x="832.08" y="314.67" width="3.4" height="21.19" fill="#FFBC05"/><rect x="832.08" y="284.22" width="3.4" height="30.46" fill="#8DD3D9"/>
<rect x="836.75" y="330.19" width="3.4" height="31.41" fill="#FF7F00"/><rect x="836.75" y="294.24" width="3.4" height="35.94" fill="#FFBC05"/><rect x="836.75" y="250.92" width="3.4" height="43.33" fill="#8DD3D9"/>
<rect x="841.42" y="293.30" width="3.4" height="68.30" fill="#FF7F00"/><rect x="841.42" y="277.97" width="3.4" height="15.33" fill="#FFBC05"/><rect x="841.42" y="257.16" width="3.4" height="20.81" fill="#8DD3D9"/>
<rect x="846.10" y="290.84" width="3.4" height="70.76" fill="#FF7F00"/><rect x="846.10" y="279.86" width="3.4" height="10.98" fill="#FFBC05"/><rect x="846.10" y="240.51" width="3.4" height="39.35" fill="#8DD3D9"/>
<rect x="850.77" y="340.02" width="3.4" height="21.58" fill="#FF7F00"/><rect x="850.77" y="324.13" width="3.4" height="15.89" fill="#FFBC05"/><rect x="850.77" y="297.08" width="3.4" height="27.05" fill="#8DD3D9"/>
<rect x="855.44" y="341.16" width="3.4" height="20.44" fill="#FF7F00"/><rect x="855.44" y="333.40" width="3.4" height="7.76" fill="#FFBC05"/><rect x="855.44" y="324.13" width="3.4" height="9.27" fill="#8DD3D9"/>
<rect x="860.12" y="336.81" width="3.4" height="24.79" fill="#FF7F00"/><rect x="860.12" y="323.00" width="3.4" height="13.81" fill="#FFBC05"/><rect x="860.12" y="305.97" width="3.4" height="17.03" fill="#8DD3D9"/>
<rect x="864.79" y="293.30" width="3.4" height="68.30" fill="#FF7F00"/><rect x="864.79" y="260.75" width="3.4" height="32.54" fill="#FFBC05"/><rect x="864.79" y="218.19" width="3.4" height="42.57" fill="#8DD3D9"/>
<rect x="869.47" y="324.89" width="3.4" height="36.71" fill="#FF7F00"/><rect x="869.47" y="290.46" width="3.4" height="34.43" fill="#FFBC05"/><rect x="869.47" y="249.02" width="3.4" height="41.43" fill="#8DD3D9"/>
<rect x="874.14" y="335.86" width="3.4" height="25.74" fill="#FF7F00"/><rect x="874.14" y="317.89" width="3.4" height="17.97" fill="#FFBC05"/><rect x="874.14" y="237.11" width="3.4" height="80.78" fill="#8DD3D9"/>
<rect x="878.81" y="305.59" width="3.4" height="56.01" fill="#FF7F00"/><rect x="878.81" y="265.10" width="3.4" height="40.49" fill="#FFBC05"/><rect x="878.81" y="220.27" width="3.4" height="44.84" fill="#8DD3D9"/>
<rect x="883.49" y="320.73" width="3.4" height="40.87" fill="#FF7F00"/><rect x="883.49" y="300.86" width="3.4" height="19.86" fill="#FFBC05"/><rect x="883.49" y="279.67" width="3.4" height="21.19" fill="#8DD3D9"/>
<rect x="888.16" y="312.21" width="3.4" height="49.39" fill="#FF7F00"/><rect x="888.16" y="283.84" width="3.4" height="28.38" fill="#FFBC05"/><rect x="888.16" y="253.75" width="3.4" height="30.08" fill="#8DD3D9"/>
<rect x="892.83" y="312.78" width="3.4" height="48.82" fill="#FF7F00"/><rect x="892.83" y="276.46" width="3.4" height="36.33" fill="#FFBC05"/><rect x="892.83" y="231.43" width="3.4" height="45.02" fill="#8DD3D9"/>
<rect x="897.51" y="247.70" width="3.4" height="113.90" fill="#FF7F00"/><rect x="897.51" y="190.56" width="3.4" height="57.14" fill="#FFBC05"/><rect x="897.51" y="132.86" width="3.4" height="57.70" fill="#8DD3D9"/>
<rect x="902.18" y="324.13" width="3.4" height="37.47" fill="#FF7F00"/><rect x="902.18" y="277.40" width="3.4" height="46.73" fill="#FFBC05"/><rect x="902.18" y="244.86" width="3.4" height="32.54" fill="#8DD3D9"/>
<rect x="906.85" y="299.92" width="3.4" height="61.68" fill="#FF7F00"/><rect x="906.85" y="271.16" width="3.4" height="28.76" fill="#FFBC05"/><rect x="906.85" y="218.76" width="3.4" height="52.40" fill="#8DD3D9"/>
<rect x="911.53" y="340.59" width="3.4" height="21.01" fill="#FF7F00"/><rect x="911.53" y="307.11" width="3.4" height="33.48" fill="#FFBC05"/><rect x="911.53" y="270.78" width="3.4" height="36.33" fill="#8DD3D9"/>
<rect x="916.20" y="347.21" width="3.4" height="14.39" fill="#FF7F00"/><rect x="916.20" y="303.70" width="3.4" height="43.51" fill="#FFBC05"/><rect x="916.20" y="263.21" width="3.4" height="40.49" fill="#8DD3D9"/>
<rect x="920.87" y="317.89" width="3.4" height="43.71" fill="#FF7F00"/><rect x="920.87" y="260.37" width="3.4" height="57.51" fill="#FFBC05"/><rect x="920.87" y="220.27" width="3.4" height="40.11" fill="#8DD3D9"/>
<rect x="925.55" y="333.97" width="3.4" height="27.63" fill="#FF7F00"/><rect x="925.55" y="321.11" width="3.4" height="12.86" fill="#FFBC05"/><rect x="925.55" y="244.67" width="3.4" height="76.43" fill="#8DD3D9"/>
<rect x="930.22" y="348.16" width="3.4" height="13.44" fill="#FF7F00"/><rect x="930.22" y="321.67" width="3.4" height="26.49" fill="#FFBC05"/><rect x="930.22" y="299.54" width="3.4" height="22.13" fill="#8DD3D9"/>
<rect x="934.89" y="343.43" width="3.4" height="18.17" fill="#FF7F00"/><rect x="934.89" y="324.51" width="3.4" height="18.92" fill="#FFBC05"/><rect x="934.89" y="283.84" width="3.4" height="40.67" fill="#8DD3D9"/>
<rect x="939.57" y="332.08" width="3.4" height="29.52" fill="#FF7F00"/><rect x="939.57" y="316.00" width="3.4" height="16.08" fill="#FFBC05"/><rect x="939.57" y="249.02" width="3.4" height="66.97" fill="#8DD3D9"/>
<rect x="944.24" y="357.62" width="3.4" height="3.98" fill="#FF7F00"/><rect x="944.24" y="353.27" width="3.4" height="4.35" fill="#FFBC05"/><rect x="944.24" y="314.11" width="3.4" height="39.16" fill="#8DD3D9"/>
<rect x="948.91" y="358.94" width="3.4" height="2.66" fill="#FF7F00"/><rect x="948.91" y="345.32" width="3.4" height="13.62" fill="#FFBC05"/><rect x="948.91" y="301.81" width="3.4" height="43.51" fill="#8DD3D9"/>
<rect x="953.59" y="340.02" width="3.4" height="21.58" fill="#FF7F00"/><rect x="953.59" y="335.29" width="3.4" height="4.73" fill="#FFBC05"/><rect x="953.59" y="256.02" width="3.4" height="79.27" fill="#8DD3D9"/>
<rect x="958.26" y="318.84" width="3.4" height="42.76" fill="#FF7F00"/><rect x="958.26" y="307.86" width="3.4" height="10.97" fill="#FFBC05"/><rect x="958.26" y="274.56" width="3.4" height="33.30" fill="#8DD3D9"/>
<rect x="962.94" y="329.81" width="3.4" height="31.79" fill="#FF7F00"/><rect x="962.94" y="327.92" width="3.4" height="1.89" fill="#FFBC05"/><rect x="962.94" y="306.16" width="3.4" height="21.76" fill="#8DD3D9"/></g>
<path d="M72.0,361.6 L72.0,228.0 76.9,228.9 81.7,230.3 89.2,231.0 96.1,231.7 101.5,232.4 105.6,232.8 113.2,235.8 118.0,236.2 123.4,237.3 130.3,238.2 137.1,240.6 145.3,243.0 154.9,246.2 161.7,247.1 168.5,247.8 172.6,250.5 178.1,254.6 183.6,255.1 193.2,255.3 198.6,256.0 205.5,256.2 208.2,257.3 212.3,260.0 216.4,261.4 220.5,262.8 223.9,265.2 230.1,271.7 238.3,277.8 243.8,281.2 249.2,284.9 254.7,286.0 258.8,287.1 262.9,290.1 268.4,294.9 275.2,297.6 283.4,300.4 291.6,302.4 298.4,303.1 305.5,305.0 312.3,307.8 319.1,309.1 324.6,310.5 328.7,313.5 334.2,314.6 341.0,315.6 346.5,316.7 352.0,318.0 360.2,318.7 365.6,321.2 371.1,322.1 379.3,324.5 386.1,325.3 393.0,327.6 401.2,329.9 408.0,331.7 413.5,335.4 419.0,336.5 425.8,337.2 429.6,338.7 436.4,341.7 443.2,344.9 450.1,349.6 458.3,353.8 467.9,356.5 476.1,357.2 484.3,358.5 491.1,360.9 496.6,361.3 504.8,361.7 515.7,361.7 L515.7,361.6 Z" fill="rgba(232,65,66,0.11)"/>
<path d="M515.7,361.6 L515.7,361.7 526.6,361.3 532.1,359.2 538.9,355.8 545.8,352.4 548.2,350.0 553.7,346.7 561.9,340.6 567.3,337.9 575.5,333.8 581.0,333.1 587.9,331.0 594.7,329.0 601.5,326.9 608.4,324.9 613.8,321.4 617.9,318.7 623.4,317.3 628.9,313.9 633.0,309.1 637.1,306.7 643.9,305.7 652.1,304.4 660.3,303.3 665.8,302.6 672.6,300.7 680.0,299.8 687.6,299.0 695.8,298.3 704.0,298.0 709.0,296.9 713.5,292.8 720.3,284.5 727.0,274.3 733.8,266.4 740.5,260.8 748.4,256.3 756.3,250.0 765.3,246.8 774.3,243.9 783.3,239.4 792.3,234.9 801.4,228.2 810.4,220.3 819.4,216.9 828.4,212.4 830.0,211.5 839.5,206.0 848.9,199.4 859.6,196.3 865.5,191.1 879.7,179.3 891.5,170.3 898.6,160.8 910.4,152.1 919.9,146.7 926.9,140.3 934.0,136.7 941.1,131.3 950.6,127.7 957.7,123.0 964.7,120.0 L964.7,361.6 Z" fill="rgba(50,175,150,0.11)"/>
<polyline points="72.0,228.0 76.9,228.9 81.7,230.3 89.2,231.0 96.1,231.7 101.5,232.4 105.6,232.8 113.2,235.8 118.0,236.2 123.4,237.3 130.3,238.2 137.1,240.6 145.3,243.0 154.9,246.2 161.7,247.1 168.5,247.8 172.6,250.5 178.1,254.6 183.6,255.1 193.2,255.3 198.6,256.0 205.5,256.2 208.2,257.3 212.3,260.0 216.4,261.4 220.5,262.8 223.9,265.2 230.1,271.7 238.3,277.8 243.8,281.2 249.2,284.9 254.7,286.0 258.8,287.1 262.9,290.1 268.4,294.9 275.2,297.6 283.4,300.4 291.6,302.4 298.4,303.1 305.5,305.0 312.3,307.8 319.1,309.1 324.6,310.5 328.7,313.5 334.2,314.6 341.0,315.6 346.5,316.7 352.0,318.0 360.2,318.7 365.6,321.2 371.1,322.1 379.3,324.5 386.1,325.3 393.0,327.6 401.2,329.9 408.0,331.7 413.5,335.4 419.0,336.5 425.8,337.2 429.6,338.7 436.4,341.7 443.2,344.9 450.1,349.6 458.3,353.8 467.9,356.5 476.1,357.2 484.3,358.5 491.1,360.9 496.6,361.3 504.8,361.7 515.7,361.7" fill="none" stroke="#EF4A5A" stroke-width="1.9" stroke-linejoin="round" stroke-linecap="round"/>
<polyline points="515.7,361.7 526.6,361.3 532.1,359.2 538.9,355.8 545.8,352.4 548.2,350.0 553.7,346.7 561.9,340.6 567.3,337.9 575.5,333.8 581.0,333.1 587.9,331.0 594.7,329.0 601.5,326.9 608.4,324.9 613.8,321.4 617.9,318.7 623.4,317.3 628.9,313.9 633.0,309.1 637.1,306.7 643.9,305.7 652.1,304.4 660.3,303.3 665.8,302.6 672.6,300.7 680.0,299.8 687.6,299.0 695.8,298.3 704.0,298.0 709.0,296.9 713.5,292.8 720.3,284.5 727.0,274.3 733.8,266.4 740.5,260.8 748.4,256.3 756.3,250.0 765.3,246.8 774.3,243.9 783.3,239.4 792.3,234.9 801.4,228.2 810.4,220.3 819.4,216.9 828.4,212.4 830.0,211.5 839.5,206.0 848.9,199.4 859.6,196.3 865.5,191.1 879.7,179.3 891.5,170.3 898.6,160.8 910.4,152.1 919.9,146.7 926.9,140.3 934.0,136.7 941.1,131.3 950.6,127.7 957.7,123.0 964.7,120.0" fill="none" stroke="#2FAE93" stroke-width="1.9" stroke-linejoin="round" stroke-linecap="round"/>
<line x1="516.3" y1="110.8" x2="516.3" y2="361.6" stroke="#F0283A" stroke-width="2" stroke-dasharray="7 3.6"/>
<path d="M515.8,96.6 L520.4,109.5 L515.8,107.4 L511.2,109.5 Z" fill="#F0283A"/>
<g opacity="0.6" fill="#A3A8B0">
<path d="M865,329 L876,329 Q879,331 880,334 L878.5,336 Q876.5,342 874,346 L873.5,350 L866,350 L865.5,346 Q863,342 861.5,336 L860.2,334 Q861,331 865,329 Z"/>
<text x="885.1" y="344" font-size="16" textLength="63" lengthAdjust="spacingAndGlyphs">coinglass</text>
</g>
<g font-size="11" fill="#333"><text transform="translate(62.1,99.7) scale(0.917,1)" text-anchor="end">222.24M</text>
<text transform="translate(62.1,126.2) scale(0.917,1)" text-anchor="end">200.00M</text>
<text transform="translate(62.1,185.8) scale(0.917,1)" text-anchor="end">150.00M</text>
<text transform="translate(62.1,245.5) scale(0.917,1)" text-anchor="end">100.00M</text>
<text transform="translate(62.1,305.2) scale(0.917,1)" text-anchor="end">50.00M</text>
<text transform="translate(62.1,364.8) scale(0.917,1)" text-anchor="end">137.22K</text>
<text transform="translate(974,101.7) scale(0.917,1)">7.00B</text>
<text transform="translate(974,139.3) scale(0.917,1)">6.00B</text>
<text transform="translate(974,176.9) scale(0.917,1)">5.00B</text>
<text transform="translate(974,214.5) scale(0.917,1)">4.00B</text>
<text transform="translate(974,252.1) scale(0.917,1)">3.00B</text>
<text transform="translate(974,289.7) scale(0.917,1)">2.00B</text>
<text transform="translate(974,327.3) scale(0.917,1)">1.00B</text>
<text transform="translate(974,364.9) scale(0.917,1)">0</text>
<text transform="translate(72.0,377.7) scale(0.917,1)" text-anchor="middle">3689.5</text>
<text transform="translate(114.1,377.7) scale(0.917,1)" text-anchor="middle">3733.6</text>
<text transform="translate(156.1,377.7) scale(0.917,1)" text-anchor="middle">3777.7</text>
<text transform="translate(198.2,377.7) scale(0.917,1)" text-anchor="middle">3841.4</text>
<text transform="translate(240.2,377.7) scale(0.917,1)" text-anchor="middle">3885.5</text>
<text transform="translate(282.3,377.7) scale(0.917,1)" text-anchor="middle">3929.6</text>
<text transform="translate(324.4,377.7) scale(0.917,1)" text-anchor="middle">3973.7</text>
<text transform="translate(366.4,377.7) scale(0.917,1)" text-anchor="middle">4017.8</text>
<text transform="translate(408.5,377.7) scale(0.917,1)" text-anchor="middle">4061.9</text>
<text transform="translate(450.6,377.7) scale(0.917,1)" text-anchor="middle">4106</text>
<text transform="translate(492.6,377.7) scale(0.917,1)" text-anchor="middle">4150.1</text>
<text transform="translate(534.7,377.7) scale(0.917,1)" text-anchor="middle">4204</text>
<text transform="translate(576.7,377.7) scale(0.917,1)" text-anchor="middle">4248.1</text>
<text transform="translate(618.8,377.7) scale(0.917,1)" text-anchor="middle">4292.2</text>
<text transform="translate(660.9,377.7) scale(0.917,1)" text-anchor="middle">4336.3</text>
<text transform="translate(702.9,377.7) scale(0.917,1)" text-anchor="middle">4380.4</text>
<text transform="translate(745.0,377.7) scale(0.917,1)" text-anchor="middle">4424.5</text>
<text transform="translate(787.0,377.7) scale(0.917,1)" text-anchor="middle">4468.6</text>
<text transform="translate(829.1,377.7) scale(0.917,1)" text-anchor="middle">4512.7</text>
<text transform="translate(871.2,377.7) scale(0.917,1)" text-anchor="middle">4556.8</text>
<text transform="translate(913.2,377.7) scale(0.917,1)" text-anchor="middle">4600.9</text>
<text transform="translate(955.3,377.7) scale(0.917,1)" text-anchor="middle">4645</text></g>
<!-- legend -->
<g font-size="10.5" fill="#666">
<rect x="232" y="67.1" width="9" height="9" fill="#35AE95"/><text x="245.7" y="74.9">Cumulative Short Liquidation Leverage</text>
<rect x="439.6" y="67.2" width="9" height="9" fill="#EF2E40"/><text x="453" y="74.9">Cumulative Long Liquidation Leverage</text>
<rect x="644.3" y="67.1" width="9" height="9" fill="#FF7F00"/><text x="657.8" y="74.9">Binance</text>
<rect x="707.6" y="67.1" width="9" height="9" fill="#FFBC05"/><text x="720.5" y="74.9" textLength="20.5" lengthAdjust="spacingAndGlyphs">OKX</text>
<rect x="752.8" y="67.1" width="9" height="9" fill="#8DD3D9"/><text x="766.3" y="74.9">Bybit</text>
<text x="467.8" y="88.9" textLength="96.2" lengthAdjust="spacingAndGlyphs">Current Price:4183.2</text>
</g>
<!-- slider -->
<rect x="69.8" y="379.7" width="897.7" height="52.8" fill="#EEF2FD"/>
<rect x="65.05" y="399.6" width="12.7" height="14.9" rx="5.5" fill="#2A2F3D"/>
<rect x="69" y="404" width="1.4" height="6" fill="#A8AEB8"/><rect x="72.2" y="404" width="1.4" height="6" fill="#A8AEB8"/>
<rect x="960.1" y="399.6" width="12.7" height="14.9" rx="5.5" fill="#2A2F3D"/>
<rect x="964.1" y="404" width="1.4" height="6" fill="#A8AEB8"/><rect x="967.3" y="404" width="1.4" height="6" fill="#A8AEB8"/>
</svg>
</body></html>
